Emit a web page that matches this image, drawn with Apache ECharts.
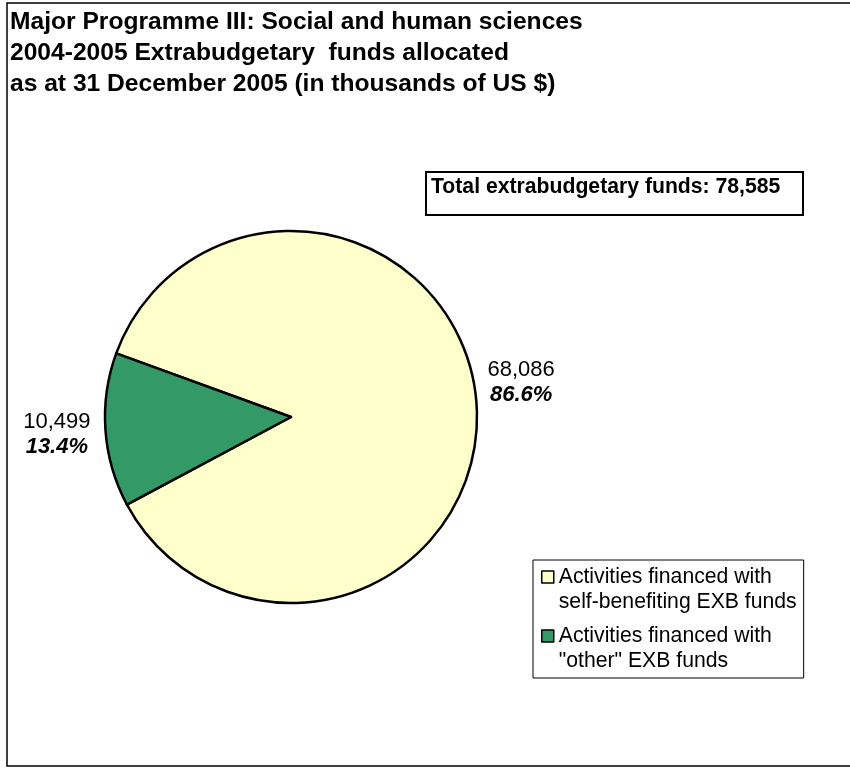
<!DOCTYPE html>
<html>
<head>
<meta charset="utf-8">
<script src="https://cdn.jsdelivr.net/npm/echarts@6/dist/echarts.min.js"></script>
<style>
html,body{margin:0;padding:0;background:#fff;}
#chart{width:850px;height:768px;}
</style>
</head>
<body>
<div id="chart"></div>
<script>
// ---- data ----
const titleLines = [
  'Major Programme III: Social and human sciences',
  '2004-2005 Extrabudgetary  funds allocated',
  'as at 31 December 2005 (in thousands of US $)'
];
const totalLabel = 'Total extrabudgetary funds: 78,585';
const categories = [
  'Activities financed with\nself-benefiting EXB funds',
  'Activities financed with\n"other" EXB funds'
];
const values = [68086, 10499];
const colors = ['#FFFFCC', '#339966'];

const FONT = '"Liberation Sans", Arial, Helvetica, sans-serif';

const chart = echarts.init(document.getElementById('chart'), null, {renderer: 'canvas'});

const option = {
  backgroundColor: '#fff',
  animation: false,
  graphic: [{
    type: 'rect',
    shape: {x: 7, y: 3, width: 860, height: 763},
    style: {fill: null, stroke: '#000', lineWidth: 1.5},
    silent: true
  }],
  title: [{
    text: titleLines.join('\n'),
    left: 10,
    top: 6.5,
    padding: 0,
    textStyle: {fontFamily: FONT, fontSize: 24.6, fontWeight: 'bold', color: '#000', lineHeight: 31}
  }, {
    text: totalLabel,
    left: 426,
    top: 172,
    padding: [3, 23, 16, 5],
    borderColor: '#000',
    borderWidth: 2,
    textStyle: {fontFamily: FONT, fontSize: 21.2, fontWeight: 'bold', color: '#000', lineHeight: 24}
  }],
  legend: {
    orient: 'vertical',
    left: 533,
    top: 560,
    padding: [4.5, 7, 4.5, 8],
    itemGap: 9,
    itemWidth: 12,
    itemHeight: 37,
    icon: 'path://M0,0 L12,0 L12,12 L0,12 Z M0,37',
    itemStyle: {borderColor: '#000', borderWidth: 1.5},
    borderColor: '#000',
    borderWidth: 1,
    selectedMode: false,
    data: categories,
    textStyle: {fontFamily: FONT, fontSize: 21.2, color: '#000', lineHeight: 25}
  },
  series: [{
    type: 'pie',
    center: [291, 417],
    radius: 186,
    startAngle: 160,
    clockwise: true,
    avoidLabelOverlap: false,
    emphasis: {disabled: true},
    itemStyle: {borderColor: '#000', borderWidth: 2.5},
    label: {
      show: true,
      position: 'outside',
      distanceToLabelLine: 5,
      color: '#000',
      formatter: function (p) {
        return '{a|' + p.value.toLocaleString('en-US') + '}\n{b|' + p.percent.toFixed(1) + '%}';
      },
      rich: {
        a: {fontFamily: FONT, fontSize: 22, color: '#000', lineHeight: 25, align: 'center'},
        b: {fontFamily: FONT, fontSize: 22, fontWeight: 'bold', fontStyle: 'italic', color: '#000', lineHeight: 25, align: 'center'}
      }
    },
    labelLine: {show: false, length: 6, length2: 0},
    labelLayout: function (p) {
      return p.dataIndex === 0 ? {dy: -21} : {dx: -4, dy: 4};
    },
    data: categories.map(function (c, i) {
      return {name: c, value: values[i], itemStyle: {color: colors[i]}};
    })
  }]
};
chart.setOption(option);
</script>
</body>
</html>
